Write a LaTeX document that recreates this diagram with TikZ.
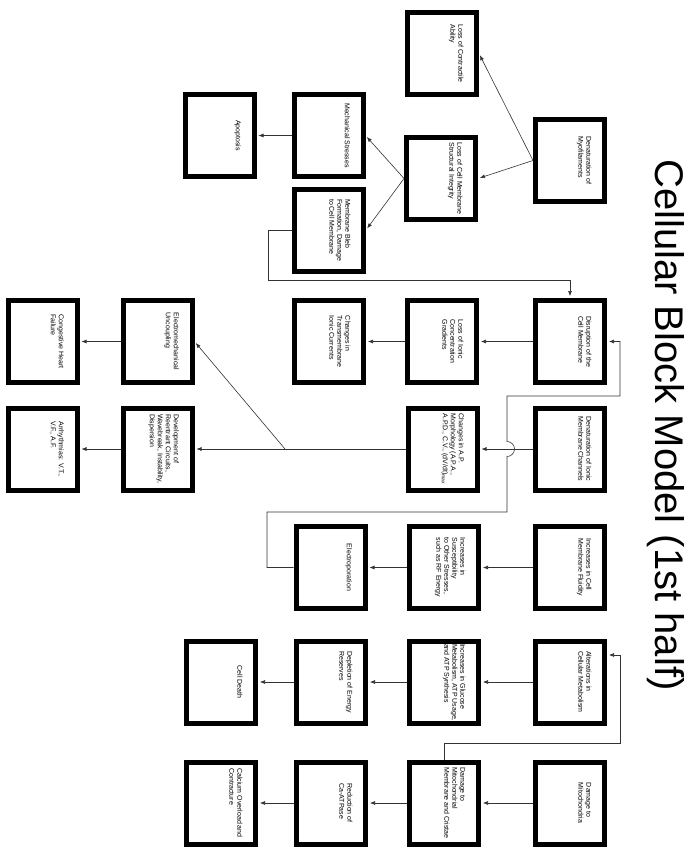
\documentclass[tikz,border=0pt]{standalone}
\usepackage{fontspec}
\setmainfont{Liberation Sans}
\usepackage{graphicx}
\usetikzlibrary{arrows.meta}
\newcommand{\btxt}[1]{\rotatebox{-90}{\parbox[c][44pt][t]{76pt}{\centering\begin{tabular}{@{}l@{}}#1\end{tabular}}}}

\begin{document}
\begin{tikzpicture}[x=1pt, y=-1pt,
    blk/.style={draw, line width=5pt, minimum width=69pt, minimum height=82pt,
                inner sep=0pt, font=\fontsize{7}{8}\selectfont},
    arr/.style={-{Latex[length=5pt,width=4pt]}, line width=0.6pt, black!80, shorten >=2pt}
  ]
  \useasboundingbox (0,0) rectangle (697,861);

  \node[rotate=-90, font=\fontsize{40}{48}\selectfont] (title) at (666,425) {Cellular Block Model (1st half)};

  % top group
  \node[blk] (contr) at (442,53.5)    {\btxt{Loss of Contractile\\Ability}};
  \node[blk] (myo)   at (570,160.5)   {\btxt{Denaturation of\\Myofilaments}};
  \node[blk] (integ) at (441,178.5)   {\btxt{Loss of Cell Membrane\\Structural Integrity}};
  \node[blk] (apop)  at (219.5,135.5) {\btxt{Apoptosis}};
  \node[blk] (mech)  at (328.5,135.5) {\btxt{Mechanical Stresses}};
  \node[blk] (bleb)  at (329,230)     {\btxt{Membrane Bleb\\Formation, Damage\\to Cell Membrane}};

  % membrane row
  \node[blk] (chf)   at (42.5,341.5)  {\btxt{Congestive Heart\\Failure}};
  \node[blk] (elec)  at (157.5,341.5) {\btxt{Electromechanical\\Uncoupling}};
  \node[blk] (trans) at (329,341.5)   {\btxt{Changes in\\Transmembrane\\Ionic Currents}};
  \node[blk] (grad)  at (442,341.5)   {\btxt{Loss of Ionic\\Concentration\\Gradients}};
  \node[blk] (disr)  at (570,341.5)   {\btxt{Disruption of the\\Cell Membrane}};

  % channel row
  \node[blk] (arrh)  at (42.5,449)    {\btxt{Arrhythmias: V.T.,\\V.F., A.F.}};
  \node[blk] (dev)   at (157.5,449)   {\btxt{Development of\\Reentrant Circuits,\\Wavebreak, Instability,\\Dispersion}};
  \node[blk] (apm)   at (442.5,449)   {\btxt{Changes in A.P.\\Morphology (A.P.A.,\\A.P.D., C.V., (dV/dt)\textsubscript{max}}};
  \node[blk] (chan)  at (570,449)     {\btxt{Denaturation of Ionic\\Membrane Channels}};

  % fluidity row
  \node[blk] (epor)  at (330.5,567.5) {\btxt{Electroporation}};
  \node[blk] (susc)  at (444,567.5)   {\btxt{Increases in\\Susceptibility\\to Other Stresses,\\such as RF Energy}};
  \node[blk] (fluid) at (570,567.5)   {\btxt{Increases in Cell\\Membrane Fluidity}};

  % metabolism row
  \node[blk] (death) at (221,682)     {\btxt{Cell Death}};
  \node[blk] (depl)  at (331,682)     {\btxt{Depletion of Energy\\Reserves}};
  \node[blk] (gluc)  at (444,682)     {\btxt{Increases in Glucose\\Metabolism, ATP Usage,\\and ATP Synthesis}};
  \node[blk] (metab) at (570,682)     {\btxt{Alterations in\\Cellular Metabolism}};

  % mitochondria row
  \node[blk] (calc)  at (221,803)     {\btxt{Calcium Overload and\\Contracture}};
  \node[blk] (ca)    at (331,803)     {\btxt{Reduction of\\Ca-ATPase}};
  \node[blk] (mmem)  at (444,803)     {\btxt{Damage to\\Mitochondrial\\Membrane and Cristae}};
  \node[blk] (mito)  at (570,803)     {\btxt{Damage to\\Mitochondria}};

  \coordinate (bl1) at (268,280);
  \coordinate (br)  at (285,449);
  \coordinate (ep1) at (267,512);
  \coordinate (hopb) at (507,456.5);
  \coordinate (ep2) at (620,396);
  \coordinate (mt1) at (620,743);

  \draw[arr] (myo.west) -- (contr.east);
  \draw[arr] (myo.west) -- (integ.east);
  \draw[arr] (integ.west) -- (mech.east);
  \draw[arr] (integ.west) -- (bleb.east);
  \draw[arr] (mech.west) -- (apop.east);
  \draw[arr] (bleb.west) -| (bl1) -| (disr.north);

  \draw[arr] (disr.west) -- (grad.east);
  \draw[arr] (grad.west) -- (trans.east);
  \draw[arr] (elec.west) -- (chf.east);

  \draw[arr] (chan.west) -- (apm.east);
  \draw[arr] (apm.west) -- (dev.east);
  \draw[arr] (br) -- (elec.east);
  \draw[arr] (dev.west) -- (arrh.east);
  \draw[arr] (epor.west) -| (ep1) -| (hopb)
    arc[start angle=90, end angle=-90, radius=7.5] |- (ep2) |- (disr.east);

  \draw[arr] (fluid.west) -- (susc.east);
  \draw[arr] (susc.west) -- (epor.east);

  \draw[arr] (metab.west) -- (gluc.east);
  \draw[arr] (gluc.west) -- (depl.east);
  \draw[arr] (depl.west) -- (death.east);

  \draw[arr] (mito.west) -- (mmem.east);
  \draw[arr] (mmem.west) -- (ca.east);
  \draw[arr] (ca.west) -- (calc.east);
  \draw[arr] (mmem.north) |- (mt1) |- ([yshift=27pt]metab.east);
\end{tikzpicture}
\end{document}
